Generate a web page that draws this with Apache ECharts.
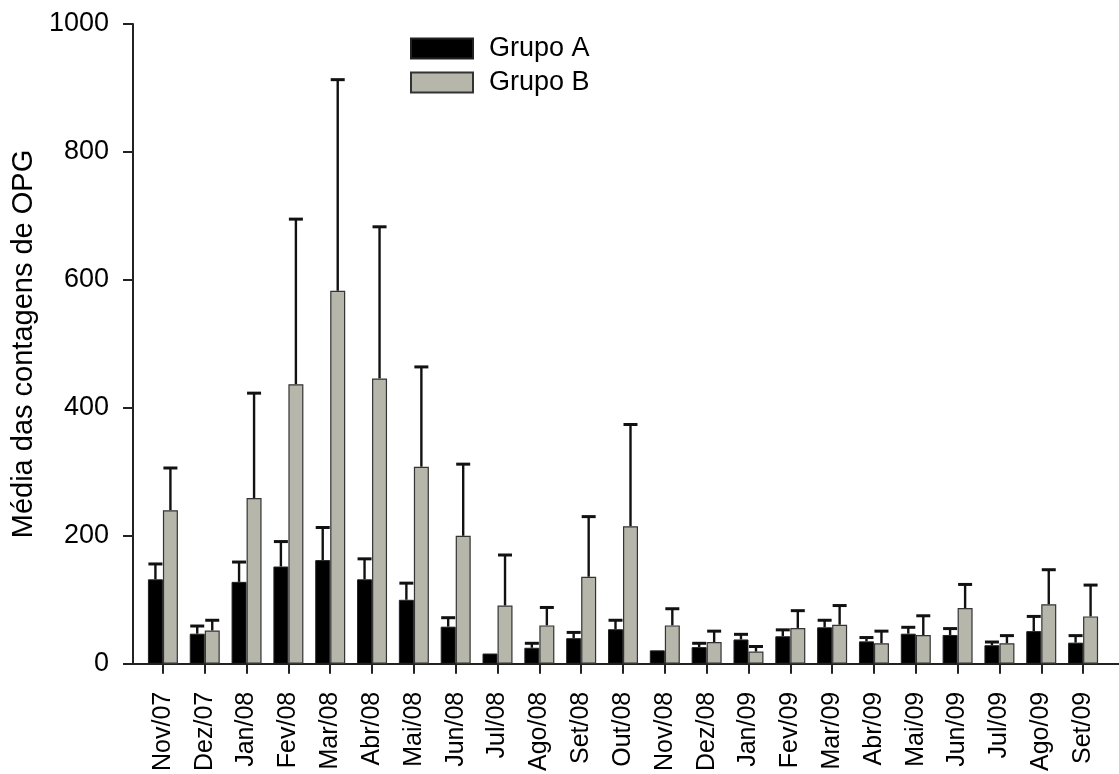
<!DOCTYPE html>
<html>
<head>
<meta charset="utf-8">
<script src="https://cdn.jsdelivr.net/npm/echarts@6/dist/echarts.min.js"></script>
<style>
html,body{margin:0;padding:0;background:#fff;}
#chart{width:1119px;height:774px;}
</style>
</head>
<body>
<div id="chart"></div>
<script>
const categories = ['Nov/07','Dez/07','Jan/08','Fev/08','Mar/08','Abr/08','Mai/08','Jun/08','Jul/08','Ago/08','Set/08','Out/08','Nov/08','Dez/08','Jan/09','Fev/09','Mar/09','Abr/09','Mai/09','Jun/09','Jul/09','Ago/09','Set/09'];
const grupoA = [132, 47, 128, 152, 162, 132, 100, 58, 16, 25, 40, 54, 21, 26, 38, 43, 57, 35, 47, 45, 29, 51, 33];
const erroA  = [24, 12, 31, 39, 51, 32, 26, 14, 0, 7, 9, 14, 0, 6, 8, 10, 11, 6, 10, 10, 5, 23, 11];
const grupoB = [240, 52, 259, 437, 583, 446, 308, 200, 91, 60, 136, 215, 60, 34, 19, 56, 61, 32, 45, 87, 32, 93, 74];
const erroB  = [66, 16, 164, 258, 330, 237, 156, 112, 79, 28, 94, 159, 26, 17, 8, 27, 30, 19, 30, 37, 12, 54, 49];
const yTicks = [0, 200, 400, 600, 800, 1000];
const seriesNames = ['Grupo A', 'Grupo B'];

const BAR_W = 15;
const CAP_W = 14;
const FONT = 'Liberation Sans, Arial, Helvetica, sans-serif';

function errData(vals, errs) {
  return vals.map((v, i) => [i, v, v + errs[i], errs[i]]);
}
function errRenderer(offset) {
  return function (params, api) {
    const e = api.value(3);
    if (!e) return null;
    const i = api.value(0);
    const base = api.coord([i, api.value(1)]);
    const top = api.coord([i, api.value(2)]);
    const x = base[0] + offset;
    return {
      type: 'group',
      children: [
        { type: 'line', shape: { x1: x, y1: base[1], x2: x, y2: top[1] }, style: { stroke: '#111', lineWidth: 2.4 } },
        { type: 'line', shape: { x1: x - CAP_W / 2, y1: top[1], x2: x + CAP_W / 2, y2: top[1] }, style: { stroke: '#111', lineWidth: 3 } }
      ]
    };
  };
}

const chart = echarts.init(document.getElementById('chart'), null, { renderer: 'canvas' });
chart.setOption({
  backgroundColor: '#ffffff',
  animation: false,
  textStyle: { fontFamily: FONT },
  legend: {
    data: seriesNames,
    orient: 'vertical',
    left: 410,
    top: 35,
    padding: 0,
    itemWidth: 62,
    itemHeight: 20,
    itemGap: 7,
    icon: 'rect',
    textStyle: { fontSize: 27, color: '#000', fontFamily: FONT, lineHeight: 26, padding: [0, 0, 0, 11] }
  },
  grid: [
    { left: 133, right: 0, top: 24, bottom: 110, containLabel: false },
    { left: 142, right: 15, top: 24, bottom: 110, containLabel: false }
  ],
  xAxis: [
    {
      gridIndex: 0, type: 'value', min: 0, max: 1,
      axisLine: { show: true, lineStyle: { color: '#222', width: 2 } },
      axisTick: { show: false }, axisLabel: { show: false }, splitLine: { show: false }
    },
    {
      gridIndex: 1, type: 'category', data: categories,
      axisLine: { show: false },
      axisTick: { show: true, alignWithLabel: true, length: 10, lineStyle: { color: '#222', width: 2 } },
      axisLabel: { rotate: 90, fontSize: 25, color: '#000', margin: 28, fontFamily: FONT, interval: 0 },
      splitLine: { show: false }
    }
  ],
  yAxis: [
    {
      gridIndex: 0, type: 'value', min: 0, max: 1000, interval: 200,
      name: 'Média das contagens de OPG', nameLocation: 'middle', nameRotate: 90, nameGap: 92,
      nameTextStyle: { fontSize: 29, color: '#000', fontFamily: FONT },
      axisLine: { show: true, lineStyle: { color: '#222', width: 2 } },
      axisTick: { show: true, inside: false, length: 10, lineStyle: { color: '#222', width: 2 } },
      axisLabel: { fontSize: 27, color: '#000', margin: 24, fontFamily: FONT,
        formatter: function (v) { return String(v); } },
      splitLine: { show: false }
    },
    {
      gridIndex: 1, type: 'value', min: 0, max: 1000, show: false,
      splitLine: { show: false }
    }
  ],
  series: [
    {
      name: seriesNames[0], type: 'bar', xAxisIndex: 1, yAxisIndex: 1,
      data: grupoA, barWidth: BAR_W, barGap: '0%',
      itemStyle: { color: '#000000', borderColor: '#222', borderWidth: 1 }
    },
    {
      name: seriesNames[1], type: 'bar', xAxisIndex: 1, yAxisIndex: 1,
      data: grupoB, barWidth: BAR_W, barGap: '0%',
      itemStyle: { color: '#b6b6ab', borderColor: '#333', borderWidth: 1.2 }
    },
    {
      type: 'custom', xAxisIndex: 1, yAxisIndex: 1, z: 1,
      data: errData(grupoA, erroA), renderItem: errRenderer(-BAR_W / 2),
      encode: { x: 0, y: [1, 2] }, silent: true
    },
    {
      type: 'custom', xAxisIndex: 1, yAxisIndex: 1, z: 1,
      data: errData(grupoB, erroB), renderItem: errRenderer(BAR_W / 2),
      encode: { x: 0, y: [1, 2] }, silent: true
    }
  ]
});
</script>
</body>
</html>
